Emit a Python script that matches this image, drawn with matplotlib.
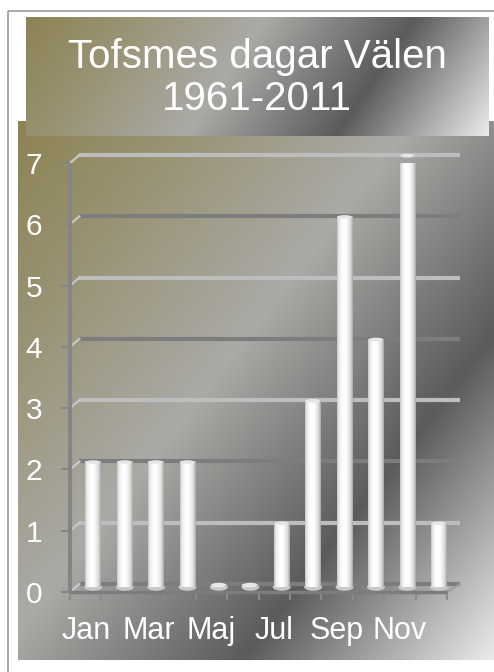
import numpy as np
import matplotlib
matplotlib.use('Agg')
import matplotlib.pyplot as plt
from matplotlib.colors import LinearSegmentedColormap
from matplotlib.patches import Rectangle, Ellipse

plt.rcParams['font.family'] = ['Liberation Sans', 'DejaVu Sans']

# data
months = ['Jan', 'Feb', 'Mar', 'Apr', 'Maj', 'Jun', 'Jul', 'Aug', 'Sep', 'Okt', 'Nov', 'Dec']
days = [2, 2, 2, 2, 0, 0, 1, 3, 6, 4, 7, 1]
yticks = [0, 1, 2, 3, 4, 5, 6, 7]

W, H = 494, 672
metal = LinearSegmentedColormap.from_list('metal', [
    (0.0, '#8d8353'), (0.2, '#9a9476'), (0.44, '#aaaaa7'),
    (0.72, '#5b5b5b'), (1.0, '#eaeaea')])
barcmap = LinearSegmentedColormap.from_list('bar', [
    (0.0, '#c4c4c4'), (0.12, '#ececec'), (0.35, '#ffffff'),
    (0.6, '#fbfbfb'), (0.85, '#dcdcdc'), (1.0, '#a6a6a6')])


def gradient(ax, x0, y0, x1, y1, dx, dy, z):
    X, Y = np.meshgrid(np.linspace(0, x1 - x0, 200), np.linspace(0, y1 - y0, 200))
    t = dx * X + dy * Y
    ax.imshow(t / t.max(), cmap=metal, extent=(x0, x1, y1, y0),
              origin='upper', aspect='auto', zorder=z, interpolation='bilinear')


fig = plt.figure(figsize=(W / 100, H / 100), dpi=100)
fig.patch.set_facecolor('white')

# background layer in pixel coordinates
bg = fig.add_axes([0, 0, 1, 1])
bg.axis('off')
bg.add_patch(Rectangle((8, 11), 500, 700, fill=False, ec='#9a9a9a', lw=1.2, zorder=0))
gradient(bg, 18, 121, W, 660, 0.79, 0.61, 1)
gradient(bg, 26, 17, 488, 136, 0.83, 0.56, 2)
bg.set_xlim(0, W)
bg.set_ylim(H, 0)
bg.text(257, 68, 'Tofsmes dagar Välen', ha='center', va='baseline',
        fontsize=29, color='white', zorder=3)
bg.text(257, 110, '1961-2011', ha='center', va='baseline',
        fontsize=29, color='white', zorder=3)

# plot area: x 70..447 px, y 592..163 px
ax = fig.add_axes([70 / W, (H - 592) / H, 377 / W, 429 / H])
ax.patch.set_alpha(0)
for s in ax.spines.values():
    s.set_visible(False)

x = np.arange(len(months))
depth_x, depth_y = 0.3, 0.13

# back-wall gridlines
for v in yticks:
    col = '#bdbdbd' if v % 2 else '#7d7d7d'
    ax.plot([-0.5 + depth_x, 11.5 + depth_x + 0.1], [v + depth_y] * 2, color=col,
            lw=3, solid_capstyle='butt', clip_on=False, zorder=1)
    ax.plot([-0.5, -0.5 + depth_x], [v, v + depth_y], color='#c8c8c8',
            lw=1.6, clip_on=False, zorder=1)
ax.plot([11.5, 11.5 + depth_x + 0.1], [0, depth_y], color='#9a9a9a', lw=1.3,
        clip_on=False, zorder=1)

# axes lines
ax.plot([-0.5, -0.5], [0, 7], color='#858585', lw=3, solid_capstyle='butt',
        clip_on=False, zorder=2)
ax.plot([-0.5, 11.5], [0, 0], color='#7c7c7c', lw=2.5, solid_capstyle='butt',
        clip_on=False, zorder=2)

# bars
bars = ax.bar(x + 0.24, [d + 0.04 for d in days], bottom=0.08, width=0.5,
              color='white', edgecolor='none', zorder=3)
grad = np.linspace(0, 1, 64).reshape(1, -1)
for b in bars:
    l, bt, w, h = b.get_x(), b.get_y(), b.get_width(), b.get_height()
    ax.imshow(grad, cmap=barcmap, extent=(l, l + w, bt, bt + h), aspect='auto',
              zorder=4, interpolation='bilinear')
    ax.add_patch(Ellipse((l + w / 2, bt), w * 1.15, 0.12, fc='#c9c9c9',
                         ec='none', zorder=3.5, clip_on=False))
    ax.add_patch(Ellipse((l + w / 2, bt + h), w * 0.9, 0.06, fc='#e6e6e6',
                         ec='none', zorder=4.5, clip_on=False))

ax.set_xlim(-0.5, 11.5)
ax.set_ylim(0, 7)
ax.set_yticks(yticks)
ax.set_xticks(x[::2])
ax.set_xticklabels(months[::2])
ax.set_xticks(np.arange(-0.5, 12, 1), minor=True)
ax.tick_params(axis='y', length=6.5, width=1.5, color='#858585', pad=13.5,
               labelsize=21.5, labelcolor='white')
ax.tick_params(axis='x', which='major', length=0, pad=17, labelsize=22,
               labelcolor='white')
ax.tick_params(axis='x', which='minor', length=6, width=1.5, color='#8a8a8a')

fig.savefig('out.png', dpi=100)
